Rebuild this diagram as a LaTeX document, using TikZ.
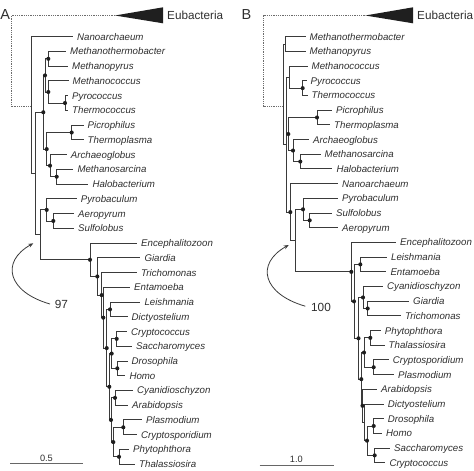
\documentclass[tikz,border=0pt]{standalone}
\usepackage{fontspec}
\setmainfont{Liberation Sans}
\usetikzlibrary{arrows.meta}
\definecolor{ln}{HTML}{3A3A3A}
\definecolor{dotc}{HTML}{1E1E1E}
\definecolor{tx}{HTML}{2E2E2E}
\newcommand\mytip[5]{%
  \coordinate (#1) at (#4,#3);
  \node[tiplab] (#1l) at ([xshift=4pt,yshift=-3.5pt]#1) {#5};
  \draw[br] (#2) |- (#1);}
\newcommand\edge[2]{\draw[br] (#1) |- (#2);}
\newcommand\dotat[1]{\fill[dotc] (#1) circle[radius=2.05pt];}
\begin{document}
\begin{tikzpicture}[x=1pt,y=-1pt,
  br/.style={draw=ln,line width=0.9pt},
  tiplab/.style={anchor=base west,inner sep=0pt,text=tx,font=\fontsize{9.7}{11}\selectfont\itshape},
  rootline/.style={draw=gray!85!black,line width=0.8pt,dash pattern=on 0.9pt off 0.9pt},
  tri/.style={fill=black!88},
  big/.style={inner sep=0pt,text=tx,font=\fontsize{14.5}{16}\selectfont},
  eub/.style={anchor=base west,inner sep=0pt,text=tx,font=\fontsize{11.7}{13}\selectfont},
  supp/.style={inner sep=0pt,text=tx,font=\fontsize{11.8}{13}\selectfont},
  arr/.style={draw=ln,line width=0.8pt,-{Stealth[length=5pt,width=4pt]}},
  sbar/.style={draw=gray!80!black,line width=0.9pt},
  sblab/.style={anchor=base,inner sep=0pt,text=tx,font=\fontsize{9.2}{10}\selectfont}]
\useasboundingbox (0,0) rectangle (474,471);

% ================= Panel A =================
\node[big,anchor=base west] (labA) at (0.3,19.6) {A};
\coordinate (Atri) at (115,15.5);
\coordinate (Ad) at (10.9,15.5);
\coordinate (Ar) at (31,106.7);
\fill[tri] (Atri) -- (163,7.3) -- (163,23.3) -- cycle;
\node[eub] (eubA) at (167,19.6) {Eubacteria};
\draw[rootline] (Atri) -- (Ad) |- (Ar);

\coordinate (AR1) at (31,105.12);
\coordinate (AR2) at (35,173.54);
\coordinate (AR3) at (40,234.83);
\coordinate (AE) at (43.3,112.25);
\coordinate (Ad1) at (45,75.4);
\coordinate (Aa) at (48.3,58.81);
\coordinate (Ab) at (48.3,91.98);
\coordinate (Ac) at (65,103.03);
\coordinate (Af) at (46.7,149.1);
\coordinate (Ag) at (71.7,132.51);
\coordinate (Ah) at (50,165.68);
\coordinate (Ai) at (56.7,176.73);
\coordinate (Acr) at (46.7,209.9);
\coordinate (Asa) at (53.3,220.95);
\coordinate (An1) at (90,259.76);
\coordinate (An2) at (97.3,276.46);
\coordinate (An3) at (101.7,295.11);
\coordinate (An4) at (103.3,317.68);
\coordinate (An5) at (106.7,348.09);
\coordinate (An6) at (110,309.39);
\coordinate (An7) at (109.3,386.78);
\coordinate (An8) at (111.7,353.61);
\coordinate (An9) at (116.7,338.87);
\coordinate (An10) at (117.3,368.35);
\coordinate (An11) at (111,419.94);
\coordinate (An12) at (115,397.83);
\coordinate (An13) at (113.3,442.05);
\coordinate (An14) at (123.3,427.31);
\coordinate (An15) at (119,456.79);

\edge{AR1}{AR2}\edge{AR2}{AE}\edge{AR2}{AR3}
\edge{AE}{Ad1}\edge{AE}{Af}\edge{Ad1}{Aa}\edge{Ad1}{Ab}\edge{Ab}{Ac}
\edge{Af}{Ag}\edge{Af}{Ah}\edge{Ah}{Ai}
\edge{AR3}{Acr}\edge{Acr}{Asa}\edge{AR3}{An1}
\edge{An1}{An2}\edge{An2}{An3}\edge{An3}{An4}\edge{An4}{An5}
\edge{An5}{An6}\edge{An5}{An7}\edge{An7}{An8}\edge{An8}{An9}\edge{An8}{An10}
\edge{An7}{An11}\edge{An11}{An12}\edge{An11}{An13}\edge{An13}{An14}\edge{An13}{An15}

\mytip{At1}{AR1}{36.7}{73}{Nanoarchaeum}
\mytip{At2}{Aa}{51.44}{66}{Methanothermobacter}
\mytip{At3}{Aa}{66.18}{68}{Methanopyrus}
\mytip{At4}{Ab}{80.92}{68.5}{Methanococcus}
\mytip{At5}{Ac}{95.66}{68}{Pyrococcus}
\mytip{At6}{Ac}{110.4}{68}{Thermococcus}
\mytip{At7}{Ag}{125.14}{83.5}{Picrophilus}
\mytip{At8}{Ag}{139.88}{83.5}{Thermoplasma}
\mytip{At9}{Ah}{154.62}{66.7}{Archaeoglobus}
\mytip{At10}{Ai}{169.36}{73.3}{Methanosarcina}
\mytip{At11}{Ai}{184.1}{88.3}{Halobacterium}
\mytip{At12}{Acr}{198.84}{76.7}{Pyrobaculum}
\mytip{At13}{Asa}{213.58}{74}{Aeropyrum}
\mytip{At14}{Asa}{228.32}{74}{Sulfolobus}
\mytip{At15}{An1}{243.06}{137}{Encephalitozoon}
\mytip{At16}{An2}{257.8}{140.3}{Giardia}
\mytip{At17}{An3}{272.54}{137}{Trichomonas}
\mytip{At18}{An4}{287.28}{130}{Entamoeba}
\mytip{At19}{An6}{302.02}{140.3}{Leishmania}
\mytip{At20}{An6}{316.76}{127.5}{Dictyostelium}
\mytip{At21}{An9}{331.5}{127}{Cryptococcus}
\mytip{At22}{An9}{346.24}{132}{Saccharomyces}
\mytip{At23}{An10}{360.98}{127.5}{Drosophila}
\mytip{At24}{An10}{375.72}{125.3}{Homo}
\mytip{At25}{An12}{390.46}{133}{Cyanidioschyzon}
\mytip{At26}{An12}{405.2}{128}{Arabidopsis}
\mytip{At27}{An14}{419.94}{142}{Plasmodium}
\mytip{At28}{An14}{434.68}{137}{Cryptosporidium}
\mytip{At29}{An15}{449.42}{129}{Phytophthora}
\mytip{At30}{An15}{464.16}{135}{Thalassiosira}

\foreach \n in {Aa,Ab,Ac,Ad1,AE,Ag,Af,Ah,Ai,Acr,Asa,An1,An2,An3,An4,An5,An6,An7,An8,An9,An10,An11,An12,An13,An14,An15} {\dotat{\n}}

\node[supp] (s97) at (61.5,304.5) {97};
\coordinate (a97s) at (50,304);
\coordinate (a97t) at (33.3,243.3);
\draw[arr] (a97s) .. controls (8,292) and (0,262) .. (a97t);

\coordinate (Asb1) at (10,463.3);
\coordinate (Asb2) at (82.7,463.3);
\draw[sbar] (Asb1) -- (Asb2);
\node[sblab] (Asbl) at (46.4,461) {0.5};

% ================= Panel B =================
\node[big,anchor=base west] (labB) at (241.3,19.8) {B};
\coordinate (Btri) at (365.3,15.5);
\coordinate (Bd) at (263.7,15.5);
\coordinate (Br) at (283.7,106.7);
\fill[tri] (Btri) -- (413,7.3) -- (413,23.3) -- cycle;
\node[eub] (eubB) at (417,19.6) {Eubacteria};
\draw[rootline] (Btri) -- (Bd) |- (Br);

\coordinate (BR) at (283.7,94.3);
\coordinate (BR2) at (286.8,144.6);
\coordinate (Bp1) at (285.3,44.05);
\coordinate (Bp2) at (289,77.1);
\coordinate (Bpc) at (302.7,88.12);
\coordinate (Bq) at (288.3,134.02);
\coordinate (Bq1) at (317,117.5);
\coordinate (Bq2) at (293,150.55);
\coordinate (Bmsh) at (300.3,161.57);
\coordinate (BN1) at (290.3,212.1);
\coordinate (BN2) at (295.3,240.6);
\coordinate (Bcr) at (303,209.31);
\coordinate (Bsa) at (309.7,220.33);
\coordinate (Beuk) at (351.3,271.86);
\coordinate (Bv) at (354,301.35);
\coordinate (Ble) at (360.3,264.4);
\coordinate (Bu) at (358.5,338.3);
\coordinate (Bcg) at (363,297.45);
\coordinate (Bgt) at (367.7,308.47);
\coordinate (By) at (361.3,379.16);
\coordinate (Bsar) at (364,352.54);
\coordinate (Bpt) at (370.3,337.85);
\coordinate (Bcp) at (373.7,367.23);
\coordinate (Bz) at (362.5,405.78);
\coordinate (Bw) at (364.5,422.3);
\coordinate (Bopi) at (367,440.68);
\coordinate (Bdh) at (373.7,425.99);
\coordinate (Bsc) at (374.7,455.37);

\edge{BR}{Bp1}\edge{BR}{BR2}\edge{BR2}{Bp2}\edge{BR2}{Bq}\edge{BR2}{BN1}
\edge{Bp2}{Bpc}\edge{Bq}{Bq1}\edge{Bq}{Bq2}\edge{Bq2}{Bmsh}
\edge{BN1}{BN2}\edge{BN2}{Bcr}\edge{Bcr}{Bsa}\edge{BN2}{Beuk}
\edge{Beuk}{Bv}\edge{Bv}{Ble}\edge{Bv}{Bu}\edge{Bu}{Bcg}\edge{Bcg}{Bgt}
\edge{Bu}{By}\edge{By}{Bsar}\edge{Bsar}{Bpt}\edge{Bsar}{Bcp}
\edge{By}{Bz}\edge{Bz}{Bw}\edge{Bw}{Bopi}\edge{Bopi}{Bdh}\edge{Bopi}{Bsc}

\mytip{Bt1}{Bp1}{36.7}{305.5}{Methanothermobacter}
\mytip{Bt2}{Bp1}{51.39}{305.5}{Methanopyrus}
\mytip{Bt3}{Bp2}{66.08}{307.5}{Methanococcus}
\mytip{Bt4}{Bpc}{80.77}{306.5}{Pyrococcus}
\mytip{Bt5}{Bpc}{95.46}{307.5}{Thermococcus}
\mytip{Bt6}{Bq1}{110.15}{332}{Picrophilus}
\mytip{Bt7}{Bq1}{124.84}{330}{Thermoplasma}
\mytip{Bt8}{Bq2}{139.53}{309}{Archaeoglobus}
\mytip{Bt9}{Bmsh}{154.22}{320.5}{Methanosarcina}
\mytip{Bt10}{Bmsh}{168.91}{332.3}{Halobacterium}
\mytip{Bt11}{BN1}{183.6}{338}{Nanoarchaeum}
\mytip{Bt12}{Bcr}{198.29}{338}{Pyrobaculum}
\mytip{Bt13}{Bsa}{212.98}{332}{Sulfolobus}
\mytip{Bt14}{Bsa}{227.67}{338}{Aeropyrum}
\mytip{Bt15}{Beuk}{242.36}{396}{Encephalitozoon}
\mytip{Bt16}{Ble}{257.05}{387}{Leishmania}
\mytip{Bt17}{Ble}{271.74}{386.3}{Entamoeba}
\mytip{Bt18}{Bcg}{286.43}{383}{Cyanidioschyzon}
\mytip{Bt19}{Bgt}{301.12}{409}{Giardia}
\mytip{Bt20}{Bgt}{315.81}{401}{Trichomonas}
\mytip{Bt21}{Bpt}{330.5}{380.7}{Phytophthora}
\mytip{Bt22}{Bpt}{345.19}{384.5}{Thalassiosira}
\mytip{Bt23}{Bcp}{359.88}{388.7}{Cryptosporidium}
\mytip{Bt24}{Bcp}{374.57}{394}{Plasmodium}
\mytip{Bt25}{Bz}{389.26}{377}{Arabidopsis}
\mytip{Bt26}{Bw}{403.95}{383.7}{Dictyostelium}
\mytip{Bt27}{Bdh}{418.64}{383.7}{Drosophila}
\mytip{Bt28}{Bdh}{433.33}{382}{Homo}
\mytip{Bt29}{Bsc}{448.02}{390}{Saccharomyces}
\mytip{Bt30}{Bsc}{462.71}{385.3}{Cryptococcus}

\foreach \n in {Bpc,Bq,Bq1,Bq2,Bmsh,BN1,Bcr,Bsa,Beuk,Bv,Ble,Bu,Bcg,Bgt,By,Bsar,Bpt,Bcp,Bz,Bopi,Bdh,Bsc} {\dotat{\n}}

\node[supp] (s100) at (321,307.5) {100};
\coordinate (a100s) at (305.3,306.2);
\coordinate (a100t) at (288.7,245);
\draw[arr] (a100s) .. controls (263,294) and (255,264) .. (a100t);

\coordinate (Bsb1) at (259.7,465);
\coordinate (Bsb2) at (333.7,465);
\draw[sbar] (Bsb1) -- (Bsb2);
\node[sblab] (Bsbl) at (296.3,462.5) {1.0};
\end{tikzpicture}
\end{document}
